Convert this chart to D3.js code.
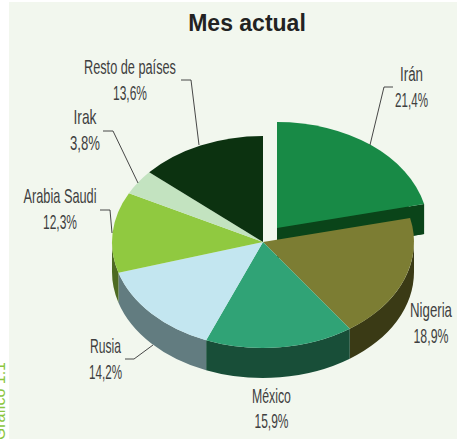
<!DOCTYPE html>
<html><head><meta charset="utf-8">
<script src="https://cdn.jsdelivr.net/npm/d3@7/dist/d3.min.js"></script>
<style>html,body{margin:0;padding:0;background:#fff}svg{display:block}</style>
</head><body><svg id="c" width="457" height="439"></svg>
<script>
const categories = ["Irán","Nigeria","México","Rusia","Arabia Saudi","Irak","Resto de países"];
const shares = [21.4,18.9,15.9,14.2,12.3,3.8,13.6];
const shareLabels = ["21,4%","18,9%","15,9%","14,2%","12,3%","3,8%","13,6%"];
const topColors = ["#188a46","#7c7d33","#30a376","#c3e6f0","#90c940","#c3e3c0","#0c3210"];
const wallColors = ["#0a4419","#3a3a15","#184e38","#627c80","#4d6a22","#6a7f68","#061a08"];
const W=457,H=439,cx=263,cy=242,rx=151,ry=106,depth=30,k=ry/rx;
const ink="#3f3f3f";
const svg=d3.select("#c");
svg.append("rect").attr("x",9).attr("y",2).attr("width",W-9).attr("height",H-2).attr("fill","#f2f7ee");

const pie=d3.pie().sort(null).value((d,i)=>shares[i]);
const slices=pie(categories);
const arc=d3.arc().innerRadius(0).outerRadius(rx);
const toCss=a=>a-Math.PI/2;
function wall(a0,a1){
  const s=Math.max(a0,Math.PI/2), e=Math.min(a1,3*Math.PI/2);
  if(e<=s) return null;
  const p=d3.path(), d=depth/k;
  p.moveTo(rx*Math.sin(s),-rx*Math.cos(s));
  p.arc(0,0,rx,toCss(s),toCss(e));
  p.lineTo(rx*Math.sin(e),-rx*Math.cos(e)+d);
  p.arc(0,d,rx,toCss(e),toCss(s),true);
  p.closePath();
  return p.toString();
}
const pieG=svg.append("g");
const ex=slices[0];
const exG=pieG.append("g").attr("transform",`translate(${cx+14},${cy-14}) scale(1,${k})`);
exG.append("path").attr("transform",`translate(0,${depth/k})`).attr("d",arc(ex)).attr("fill",wallColors[0]);
{
  const ax=rx*Math.sin(ex.endAngle), ay=-rx*Math.cos(ex.endAngle), d=depth/k;
  const q=d3.path();q.moveTo(0,0);q.lineTo(ax,ay);q.lineTo(ax,ay+d);q.lineTo(0,d);q.closePath();
  exG.append("path").attr("d",q.toString()).attr("fill",wallColors[0]);
}
exG.append("path").attr("d",arc(ex)).attr("fill",topColors[0]);

const g=pieG.append("g").attr("transform",`translate(${cx},${cy}) scale(1,${k})`);
slices.slice(1).forEach(s=>{
  const w=wall(s.startAngle,s.endAngle);
  if(w) g.append("path").attr("d",w).attr("fill",wallColors[s.index]);
});
slices.slice(1).forEach(s=>{
  g.append("path").attr("d",arc(s)).attr("fill",topColors[s.index]);
});

const leaders=[
 [[393,87],[384,87],[370,145]],
 [[125,359],[134,359],[153,345]],
 [[100,210],[110,210],[112,233]],
 [[103,131],[113,131],[138,183]],
 [[181,80],[191,80],[199,145]]
];
const line=d3.line();
leaders.forEach(l=>svg.append("path").attr("d",line(l)).attr("fill","none").attr("stroke","#333").attr("stroke-width",0.9));

// centre x, baseline 1, baseline 2, width 1, width 2
const labelBox=[
 [411.5,81,107,23,33],
 [431,317,343,42,35],
 [271.5,403,428,39,34],
 [105.5,353,379,31,33],
 [60,203,229,73,34],
 [85,124,150,23,30],
 [130,74,100,92,34]
];
const F="'Liberation Sans',Arial,sans-serif";
function t(x,y,str,w){
  const n=svg.append("text").attr("font-family",F).attr("font-size",20).attr("fill",ink).text(str);
  const len=n.node().getComputedTextLength();
  n.attr("transform",`translate(${x-w/2},${y}) scale(${w/len},1)`);
}
categories.forEach((c,i)=>{
  const b=labelBox[i];
  t(b[0],b[1],c,b[3]);
  t(b[0],b[2],shareLabels[i],b[4]);
});
svg.append("text").attr("x",247).attr("y",30.5).attr("text-anchor","middle")
 .attr("font-family",F).attr("font-weight","bold").attr("font-size",23)
 .attr("fill","#222").text("Mes actual");
svg.append("text").attr("transform","translate(5,362) rotate(-90)").attr("text-anchor","end")
 .attr("font-family",F).attr("font-size",16)
 .attr("fill","#8cc63f").text("Gráfico 1.1");
</script></body></html>
